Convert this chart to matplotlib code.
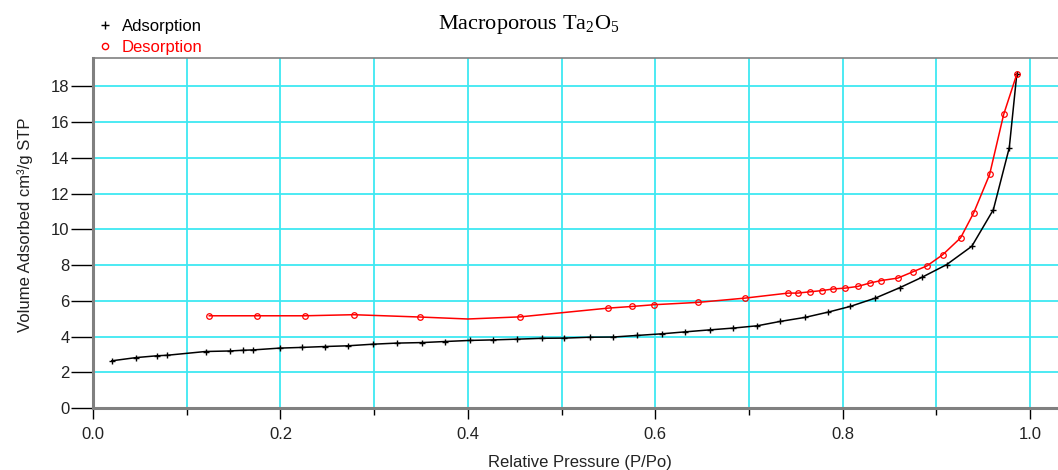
import numpy as np
import matplotlib.pyplot as plt
from matplotlib.lines import Line2D

# data
ads_p = [0.020, 0.046, 0.068, 0.079, 0.120, 0.146, 0.160, 0.171, 0.199, 0.223,
         0.248, 0.272, 0.299, 0.324, 0.351, 0.376, 0.402, 0.427, 0.452, 0.479,
         0.503, 0.530, 0.555, 0.581, 0.607, 0.632, 0.658, 0.683, 0.709, 0.733,
         0.760, 0.785, 0.808, 0.835, 0.861, 0.885, 0.911, 0.938, 0.961, 0.978, 0.986]
ads_v = [2.64, 2.82, 2.92, 2.95, 3.16, 3.19, 3.23, 3.25, 3.35, 3.39,
         3.44, 3.48, 3.57, 3.63, 3.66, 3.72, 3.78, 3.81, 3.85, 3.90,
         3.91, 3.96, 3.97, 4.06, 4.15, 4.26, 4.37, 4.47, 4.60, 4.84,
         5.07, 5.37, 5.68, 6.15, 6.73, 7.32, 8.02, 9.05, 11.1, 14.57, 18.68]

des_p = [0.986, 0.972, 0.957, 0.940, 0.926, 0.907, 0.890, 0.875, 0.859, 0.841,
         0.829, 0.816, 0.803, 0.790, 0.778, 0.765, 0.752, 0.742, 0.696, 0.646,
         0.599, 0.575, 0.550, 0.456, 0.400, 0.349, 0.278, 0.226, 0.175, 0.124]
des_v = [18.68, 16.43, 13.07, 10.92, 9.52, 8.58, 7.95, 7.62, 7.27, 7.13,
         6.99, 6.80, 6.71, 6.66, 6.57, 6.50, 6.43, 6.43, 6.15, 5.91,
         5.78, 5.68, 5.59, 5.10, 4.98, 5.09, 5.22, 5.16, 5.16, 5.16]
des_mark = [i for i in range(len(des_p)) if des_p[i] != 0.400]

x_major = [0.0, 0.2, 0.4, 0.6, 0.8, 1.0]
x_minor = [0.1, 0.3, 0.5, 0.7, 0.9]
y_ticks = [0, 2, 4, 6, 8, 10, 12, 14, 16, 18]

plt.rcParams['font.family'] = ['Liberation Sans', 'DejaVu Sans']
plt.rcParams['mathtext.fontset'] = 'custom'
plt.rcParams['mathtext.rm'] = 'Liberation Serif'
fs = 12

fig = plt.figure(figsize=(10.58, 4.70), dpi=100)
ax = fig.add_axes([0.088, 0.132, 0.912, 0.745])

grid_c = '#3ee8f2'
for x in x_major[1:] + x_minor:
    ax.axvline(x, color=grid_c, lw=1.3, zorder=0)
for y in y_ticks[1:]:
    ax.axhline(y, color=grid_c, lw=1.3, zorder=0)

ax.plot(ads_p, ads_v, color='black', lw=1.1, marker='+', ms=5, mew=1.0)
ax.plot(des_p, des_v, color='red', lw=1.1, marker='o', ms=4, mfc='none', mew=0.9,
        markevery=des_mark)

ax.set_xlim(0, 1.03)
ax.set_ylim(0, 19.6)
ax.set_xticks(x_major)
ax.set_xticklabels(['%.1f' % v for v in x_major])
ax.set_xticks(x_minor, minor=True)
ax.set_yticks(y_ticks)
ax.tick_params(axis='y', length=16, width=1, pad=1, labelsize=fs, labelcolor='#222222')
ax.tick_params(axis='x', which='major', length=8, width=1, pad=6, labelsize=fs,
               labelcolor='#222222')
ax.tick_params(axis='x', which='minor', length=5, width=1)

for s in ['left', 'bottom']:
    ax.spines[s].set_color('#808080')
    ax.spines[s].set_linewidth(2.2)
ax.spines['top'].set_color('#808080')
ax.spines['top'].set_linewidth(1.2)
ax.spines['right'].set_visible(False)

ax.set_xlabel('Relative Pressure (P/Po)', fontsize=fs, va='center', color='#222222')
ax.xaxis.set_label_coords(0.505, -0.155)
ax.set_ylabel('Volume Adsorbed cm³/g STP', fontsize=fs, va='center', color='#222222')
ax.yaxis.set_label_coords(-0.0705, 0.523)

fig.text(0.50, 1 - 29 / 470, r'Macroporous Ta$_\mathrm{2}$O$_\mathrm{5}$', ha='center',
         va='baseline', family='Liberation Serif', fontsize=16)

handles = [Line2D([], [], color='black', marker='+', ls='none', ms=6),
           Line2D([], [], color='red', marker='o', mfc='none', ls='none', ms=4.5)]
fig.legend(handles, ['Adsorption', 'Desorption'], loc='upper left',
           bbox_to_anchor=(97 / 1058, 1 - 19 / 470), frameon=False, fontsize=fs,
           handlelength=0.9, handletextpad=0.6, labelspacing=0.38,
           labelcolor=['black', 'red'], borderaxespad=0, borderpad=0)

fig.savefig('out.png', dpi=100)
